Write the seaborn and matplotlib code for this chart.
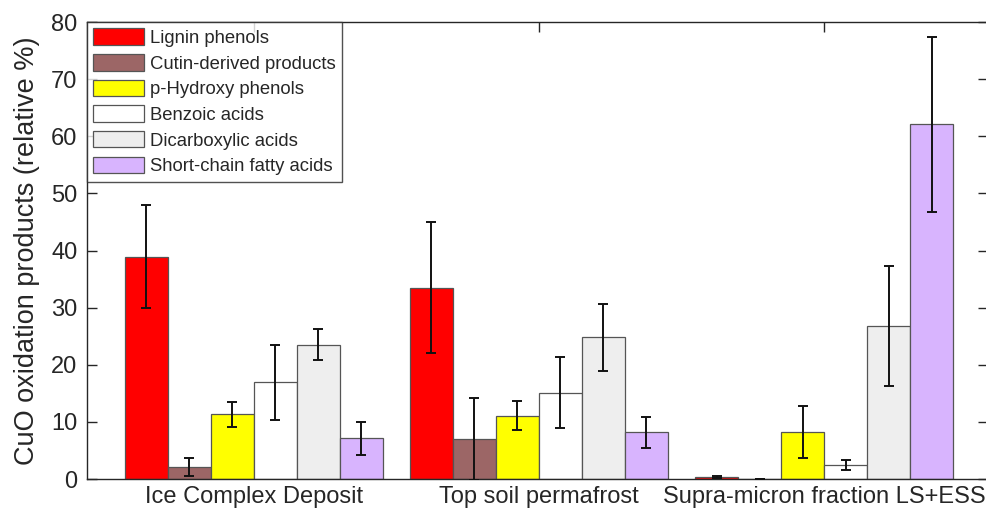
import numpy as np
import pandas as pd
import matplotlib
matplotlib.use("Agg")
import matplotlib.pyplot as plt
import seaborn as sns

groups = ["Ice Complex Deposit", "Top soil permafrost", "Supra-micron fraction LS+ESS"]
categories = ["Lignin phenols", "Cutin-derived products", "p-Hydroxy phenols",
              "Benzoic acids", "Dicarboxylic acids", "Short-chain fatty acids"]
colors = ["#FF0000", "#9C6666", "#FFFF00", "#FFFFFF", "#EEEEEE", "#D8B4FE"]

# values per category, ordered by group
lignin = [38.9, 33.5, 0.3]
cutin = [2.1, 7.0, 0.05]
phydroxy = [11.3, 11.1, 8.3]
benzoic = [16.9, 15.1, 2.45]
dicarb = [23.5, 24.8, 26.8]
scfa = [7.1, 8.2, 62.1]

lignin_err = [9.0, 11.5, 0.2]
cutin_err = [1.5, 7.1, 0.0]
phydroxy_err = [2.2, 2.6, 4.55]
benzoic_err = [6.6, 6.2, 0.9]
dicarb_err = [2.7, 5.9, 10.5]
scfa_err = [2.9, 2.7, 15.3]

values = [lignin, cutin, phydroxy, benzoic, dicarb, scfa]
errors = [lignin_err, cutin_err, phydroxy_err, benzoic_err, dicarb_err, scfa_err]

rows = []
for cat, vals in zip(categories, values):
    for g, v in zip(groups, vals):
        rows.append({"group": g, "category": cat, "value": v})
df = pd.DataFrame(rows)

sns.set_style("white")
plt.rcParams['font.family'] = ['Liberation Sans', 'DejaVu Sans']

fig = plt.figure(figsize=(9.86, 5.14), dpi=100)
ax = fig.add_axes([87/986, 35/514, (988-87)/986, (479-22)/514])

sns.barplot(data=df, x="group", y="value", hue="category", order=groups,
            hue_order=categories, palette=colors, width=0.905,
            edgecolor="#555555", linewidth=0.9, errorbar=None, ax=ax,
            saturation=1)

for cont, errs in zip(ax.containers, errors):
    xs = [b.get_x() + b.get_width() / 2 for b in cont]
    ys = [b.get_height() for b in cont]
    ax.errorbar(xs, ys, yerr=errs, fmt="none", ecolor="#111111",
                elinewidth=1.4, capsize=3.8, capthick=1.4, zorder=5)

ax.set_xlim(-0.585, 2.575)
ax.set_ylim(0, 80)
ax.set_yticks(range(0, 81, 10))
ax.set_xlabel("")
ax.set_ylabel("CuO oxidation products (relative %)", fontsize=19.5,
              color="#262626", labelpad=8)
ax.tick_params(axis="both", direction="in", length=7, width=1, colors="#262626",
               labelcolor="#262626", top=True, right=True,
               left=True, bottom=True)
ax.tick_params(axis="y", pad=7, labelsize=17)
ax.tick_params(axis="x", pad=5, labelsize=17)
for s in ax.spines.values():
    s.set_visible(True)
    s.set_color("#262626")
    s.set_linewidth(1.0)

leg = ax.legend(loc="upper left", bbox_to_anchor=(0, 1), fontsize=13.3,
                frameon=True, fancybox=False, edgecolor="#262626",
                handlelength=2.75, handleheight=1.0, handletextpad=0.3,
                labelspacing=0.38, borderpad=0.35, borderaxespad=0)
leg.get_frame().set_linewidth(1.0)

fig.savefig("out.png", dpi=100)
